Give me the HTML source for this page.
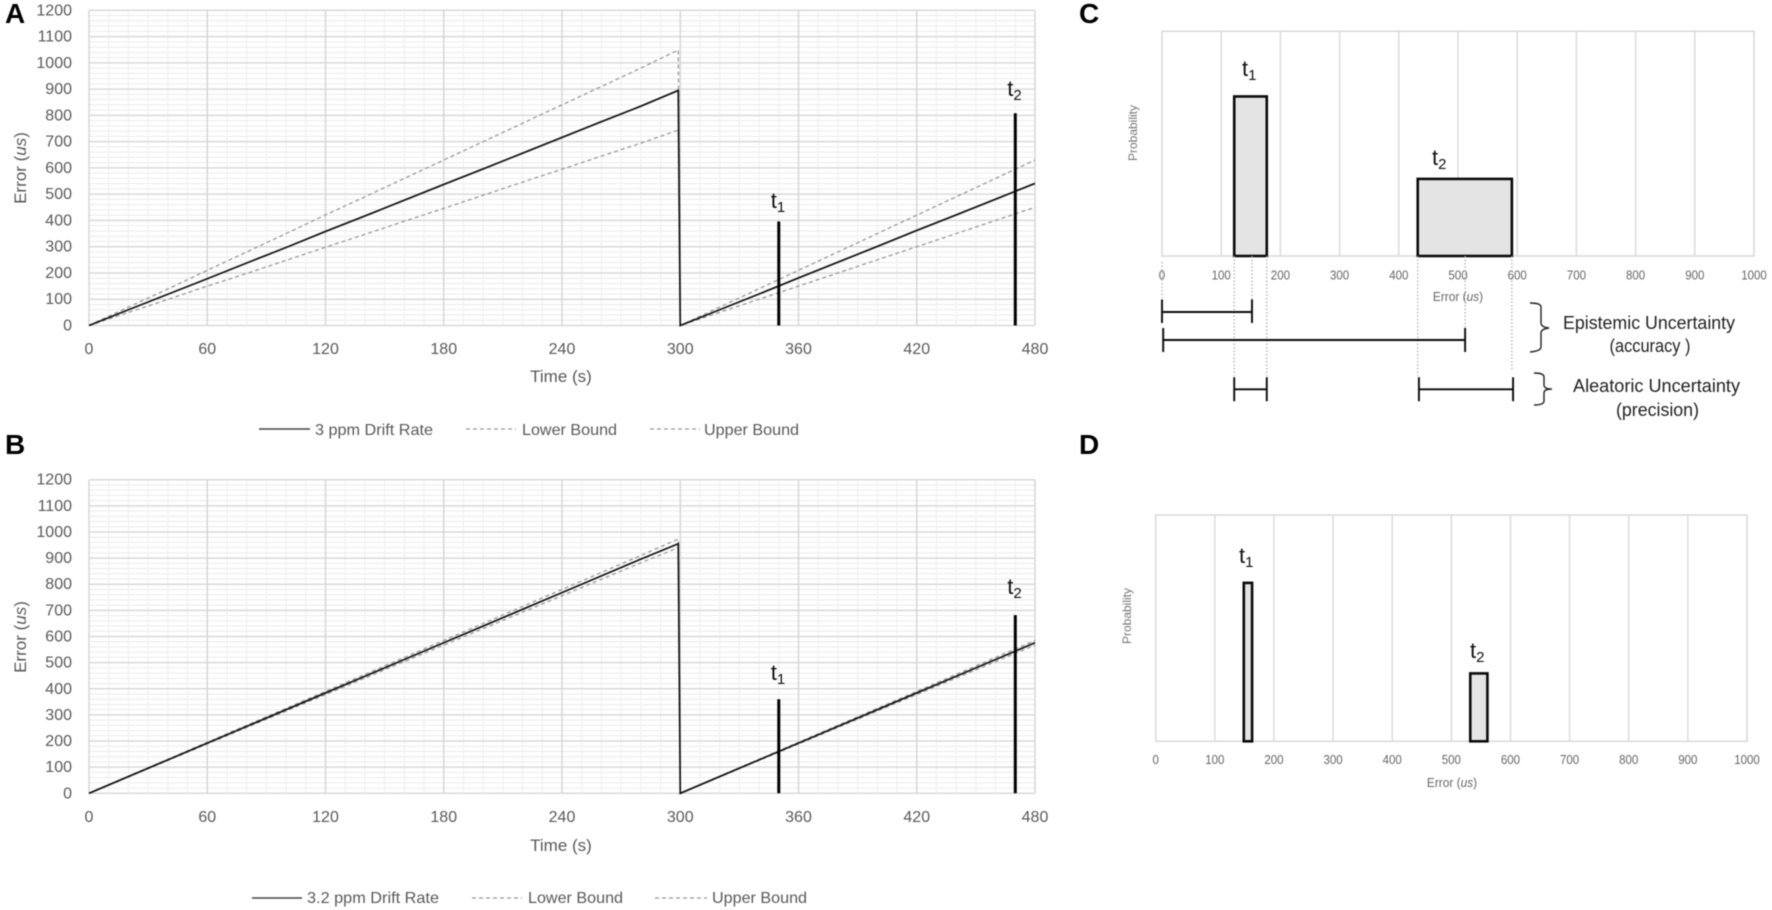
<!DOCTYPE html>
<html lang="en">
<head>
<meta charset="utf-8">
<title>Clock drift error and uncertainty</title>
<style>
html,body{margin:0;padding:0;background:#fff;}
#figure{display:block;filter:blur(0.45px);}
text{font-family:"Liberation Sans",sans-serif;}
</style>
</head>
<body>
<svg id="figure" xmlns="http://www.w3.org/2000/svg" width="1772" height="910" viewBox="0 0 1772 910">
  <rect width="1772" height="910" fill="#fff"/>
  <g id="layer-a"></g>
  <g id="layer-b"></g>
  <g id="layer-c"></g>
  <g id="layer-d"></g>
  <g id="layer-ann"></g>

  <text x="5" y="23" font-size="28" font-weight="700" fill="#000">A</text>
  <text x="5" y="454" font-size="28" font-weight="700" fill="#000">B</text>
  <text x="1079" y="23" font-size="28" font-weight="700" fill="#000">C</text>
  <text x="1079" y="454" font-size="28" font-weight="700" fill="#000">D</text>

  <text x="561" y="382" font-size="17" fill="#595959" text-anchor="middle">Time (s)</text>
  <text x="561" y="851" font-size="17" fill="#595959" text-anchor="middle">Time (s)</text>
  <text transform="translate(26,168) rotate(-90)" font-size="17" fill="#595959" text-anchor="middle">Error (<tspan font-style="italic">us</tspan>)</text>
  <text transform="translate(26,637) rotate(-90)" font-size="17" fill="#595959" text-anchor="middle">Error (<tspan font-style="italic">us</tspan>)</text>

  <g>
    <line x1="259" y1="429" x2="310" y2="429" stroke="#444" stroke-width="1.6"/>
    <text x="315" y="435" font-size="16" fill="#595959" textLength="118" lengthAdjust="spacingAndGlyphs">3 ppm Drift Rate</text>
    <line x1="466" y1="429" x2="516" y2="429" stroke="#999" stroke-width="1.3" stroke-dasharray="4 3"/>
    <text x="522" y="435" font-size="16" fill="#595959" textLength="95" lengthAdjust="spacingAndGlyphs">Lower Bound</text>
    <line x1="650" y1="429" x2="700" y2="429" stroke="#999" stroke-width="1.3" stroke-dasharray="4 3"/>
    <text x="704" y="435" font-size="16" fill="#595959" textLength="95" lengthAdjust="spacingAndGlyphs">Upper Bound</text>
  </g>
  <g>
    <line x1="252" y1="898" x2="302" y2="898" stroke="#444" stroke-width="1.6"/>
    <text x="307" y="903" font-size="16" fill="#595959" textLength="132" lengthAdjust="spacingAndGlyphs">3.2 ppm Drift Rate</text>
    <line x1="472" y1="898" x2="522" y2="898" stroke="#999" stroke-width="1.3" stroke-dasharray="4 3"/>
    <text x="528" y="903" font-size="16" fill="#595959" textLength="95" lengthAdjust="spacingAndGlyphs">Lower Bound</text>
    <line x1="655" y1="898" x2="707" y2="898" stroke="#999" stroke-width="1.3" stroke-dasharray="4 3"/>
    <text x="712" y="903" font-size="16" fill="#595959" textLength="95" lengthAdjust="spacingAndGlyphs">Upper Bound</text>
  </g>

  <text x="1649" y="329" font-size="18" fill="#222" text-anchor="middle" textLength="172" lengthAdjust="spacingAndGlyphs">Epistemic Uncertainty</text>
  <text x="1650" y="352" font-size="18" fill="#222" text-anchor="middle" textLength="81" lengthAdjust="spacingAndGlyphs">(accuracy )</text>
  <text x="1656.5" y="392" font-size="18" fill="#222" text-anchor="middle" textLength="167" lengthAdjust="spacingAndGlyphs">Aleatoric Uncertainty</text>
  <text x="1657.5" y="416" font-size="18" fill="#222" text-anchor="middle" textLength="83" lengthAdjust="spacingAndGlyphs">(precision)</text>
  <path d="M1530 303 Q1541 303 1541 307 L1541 323 Q1541 327 1549 328 Q1541 329 1541 333 L1541 347 Q1541 351 1530 352" fill="none" stroke="#222" stroke-width="1.4"/>
  <path d="M1534 373 Q1544 373 1544 377 L1544 385 Q1544 389 1552 389 Q1544 389 1544 393 L1544 401 Q1544 405 1534 405" fill="none" stroke="#222" stroke-width="1.4"/>
</svg>

<script>
/* ---- Drift charts (A, B) ---- */
const timeSeconds = [0,20,40,60,80,100,120,140,160,180,200,220,240,260,280,299,300,320,340,360,380,400,420,440,460,480];
const driftA = [0,60,119,178,238,297,358,417,477,537,596,656,716,776,835,895,0,60,120,181,241,301,362,421,481,541];
const lowerA = [0,50,99,150,198,248,298,347,397,446,496,546,595,645,694,744,0,50,100,150,200,250,300,350,400,450];
const upperA = [0,70,139,210,280,350,421,490,560,630,700,770,840,910,980,1049,0,70,140,210,280,350,420,490,560,630];
const driftB = [0,64,128,192,256,320,384,448,512,576,640,704,768,832,896,955,0,64,128,192,256,320,384,448,512,576];
const lowerB = [0,63,126,189,252,315,378,441,504,567,630,693,756,819,882,940,0,63,126,189,252,315,378,441,504,567];
const upperB = [0,65,130,195,260,325,390,455,520,585,650,715,780,845,910,973,0,65,130,195,260,325,390,455,520,585];
const markerTimes = [350,470];
const markerValuesA = [396,808];
const markerValuesB = [360,682];
const errorTicks = [0,100,200,300,400,500,600,700,800,900,1000,1100,1200];
const timeTicks = [0,60,120,180,240,300,360,420,480];

/* ---- Probability charts (C, D) ---- */
const probTicks = [0,100,200,300,400,500,600,700,800,900,1000];
const binStartC = [122,432];
const binEndC = [177,591];
const binProbC = [0.71,0.343];
const binStartD = [149,532];
const binEndD = [163,561];
const binProbD = [0.70,0.30];
const epistemicValues = [152,512];
const aleatoricStart = [122,434];
const aleatoricEnd = [177,593];

const NS = 'http://www.w3.org/2000/svg';
function mk(parent, tag, attrs, text) {
  const el = document.createElementNS(NS, tag);
  for (const k in attrs) el.setAttribute(k, attrs[k]);
  if (text !== undefined) el.textContent = text;
  parent.appendChild(el);
  return el;
}
function tLabel(parent, x, y, sub) {
  const el = mk(parent, 'text', {x:x, y:y, 'font-size':22, fill:'#111'}, 't');
  
  
  const s = mk(el, 'tspan', {dy:4, 'font-size':15}, String(sub));
  
  
}

function drawDrift(layerId, box, drift, lower, upper, markers, tLabels) {
  const g = document.getElementById(layerId);
  const X = t => box.l + (t / 480) * (box.r - box.l);
  const Y = v => box.b - (v / 1200) * (box.b - box.t);

  for (let v = 0; v <= 1200; v += 20) {
    if (v % 100 === 0) continue;
    const l = mk(g, 'line', {x1:box.l, x2:box.r, y1:Y(v), y2:Y(v), stroke:'#ebebeb', 'stroke-width':1});
    
    
  }
  for (let t = 0; t <= 480; t += 10) {
    if (t % 60 === 0) continue;
    const l = mk(g, 'line', {x1:X(t), x2:X(t), y1:box.t, y2:box.b, stroke:'#efefef', 'stroke-width':1});
    
    
  }
  errorTicks.forEach(v => {
    const l = mk(g, 'line', {x1:box.l, x2:box.r, y1:Y(v), y2:Y(v), stroke:'#d9d9d9', 'stroke-width':1.5});
    
    
    const lab = mk(g, 'text', {x:72, y:Y(v) + 5, 'font-size':16, fill:'#595959', 'text-anchor':'end'}, String(v));
    
    
  });
  timeTicks.forEach(t => {
    const l = mk(g, 'line', {x1:X(t), x2:X(t), y1:box.t, y2:box.b, stroke:'#d4d4d4', 'stroke-width':1.4});
    
    
    const lab = mk(g, 'text', {x:X(t), y:box.b + 28.5, 'font-size':16, fill:'#595959', 'text-anchor':'middle'}, String(t));
    
    
  });
  const path = arr => arr.map((v, i) => (i ? 'L' : 'M') + X(timeSeconds[i]).toFixed(2) + ' ' + Y(v).toFixed(2)).join(' ');

  const lo = mk(g, 'path', {d:path(lower), fill:'none', stroke:'#9a9a9a', 'stroke-width':1.3, 'stroke-dasharray':'4 3'});
  
  
  const up = mk(g, 'path', {d:path(upper), fill:'none', stroke:'#9a9a9a', 'stroke-width':1.3, 'stroke-dasharray':'4 3'});
  
  
  const dr = mk(g, 'path', {d:path(drift), fill:'none', stroke:'#111', 'stroke-width':1.7});
  
  

  markerTimes.forEach((t, i) => {
    const m = mk(g, 'line', {x1:X(t), x2:X(t), y1:Y(markers[i]), y2:box.b, stroke:'#000', 'stroke-width':3});
    
    
    tLabel(g, X(t) - 8, tLabels[i], i + 1);
  });
}

function drawProb(layerId, box, starts, ends, probs, tickY, titleX, titleY, probX, probY, tLabels) {
  const g = document.getElementById(layerId);
  const X = v => box.l + (v / 1000) * (box.r - box.l);
  const Y = p => box.b - p * (box.b - box.t);

  const frame = mk(g, 'path', {d:`M${box.l} ${box.b} L${box.l} ${box.t} L${box.r} ${box.t} L${box.r} ${box.b} Z`, fill:'none', stroke:'#d9d9d9', 'stroke-width':1.5});
  
  
  probTicks.forEach(v => {
    if (v > 0 && v < 1000) {
      const l = mk(g, 'line', {x1:X(v), x2:X(v), y1:box.t, y2:box.b, stroke:'#d9d9d9', 'stroke-width':1.4});
      
      
    }
    const lab = mk(g, 'text', {transform:`translate(${X(v)},${tickY + 4.6}) scale(0.92,1)`, 'font-size':12.5, fill:'#666', 'text-anchor':'middle'}, String(v));
    
    
  });
  starts.forEach((s, i) => {
    const r = mk(g, 'rect', {x:X(s), y:Y(probs[i]), width:X(ends[i]) - X(s), height:box.b - Y(probs[i]), fill:'#e4e4e4', stroke:'#0a0a0a', 'stroke-width':2.6});
    
    
    tLabel(g, tLabels[i][0], tLabels[i][1], i + 1);
  });
  const title = mk(g, 'text', {transform:`translate(${titleX},${titleY + 4}) scale(0.95,1)`, 'font-size':12.5, fill:'#666', 'text-anchor':'middle'}, 'Error (');
  
  
  const it = mk(title, 'tspan', {'font-style':'italic'}, 'us');
  
  
  const close = mk(title, 'tspan', {}, ')');
  
  
  const pl = mk(g, 'text', {transform:`translate(${probX},${probY}) rotate(-90)`, 'font-size':12, fill:'#777', 'text-anchor':'middle'}, 'Probability');
  
  
}

function drawAnnotations(box) {
  const g = document.getElementById('layer-ann');
  const X = v => box.l + (v / 1000) * (box.r - box.l);
  const guideTargets = [[0,298],[binStartC[0],376],[epistemicValues[0],300],[binEndC[0],376],[binStartC[1],376],[epistemicValues[1],328],[binEndC[1],370]];
  guideTargets.forEach(pair => {
    const l = mk(g, 'line', {x1:X(pair[0]), x2:X(pair[0]), y1:pair[0] === 0 ? 262 : box.b, y2:pair[1], stroke:'#aaa', 'stroke-width':1.2, 'stroke-dasharray':'1.5 2'});
    
    
  });
  function span(v0, v1, y, up, down, name) {
    const s = mk(g, 'path', {d:`M${X(v0)} ${y - up} V${y + down} M${X(v0)} ${y} H${X(v1)} M${X(v1)} ${y - up} V${y + down}`, fill:'none', stroke:'#0a0a0a', 'stroke-width':1.9});
    
    
  }
  span(0, epistemicValues[0], 312, 12.5, 11, 'epistemic-span-t1');
  span(2, epistemicValues[1], 340, 12, 12, 'epistemic-span-t2');
  span(aleatoricStart[0], aleatoricEnd[0], 389.3, 12, 12, 'aleatoric-span-t1');
  span(aleatoricStart[1], aleatoricEnd[1], 389.3, 12, 12, 'aleatoric-span-t2');
}

const boxC = {l:1162, r:1754, t:31.3, b:256};
const boxD = {l:1155.7, r:1747, t:515, b:741.3};
drawDrift('layer-a', {l:89, r:1035, t:10.3, b:325.5}, driftA, lowerA, upperA, markerValuesA, [208,96]);
drawDrift('layer-b', {l:89, r:1035, t:479.7, b:793.3}, driftB, lowerB, upperB, markerValuesB, [680,594]);
drawProb('layer-c', boxC, binStartC, binEndC, binProbC, 275, 1458, 297, 1137, 133, [[1242,76],[1432,165]]);
drawProb('layer-d', boxD, binStartD, binEndD, binProbD, 759.3, 1452, 783, 1131, 616, [[1239,563],[1470,658]]);
drawAnnotations(boxC);
</script>
</body>
</html>
